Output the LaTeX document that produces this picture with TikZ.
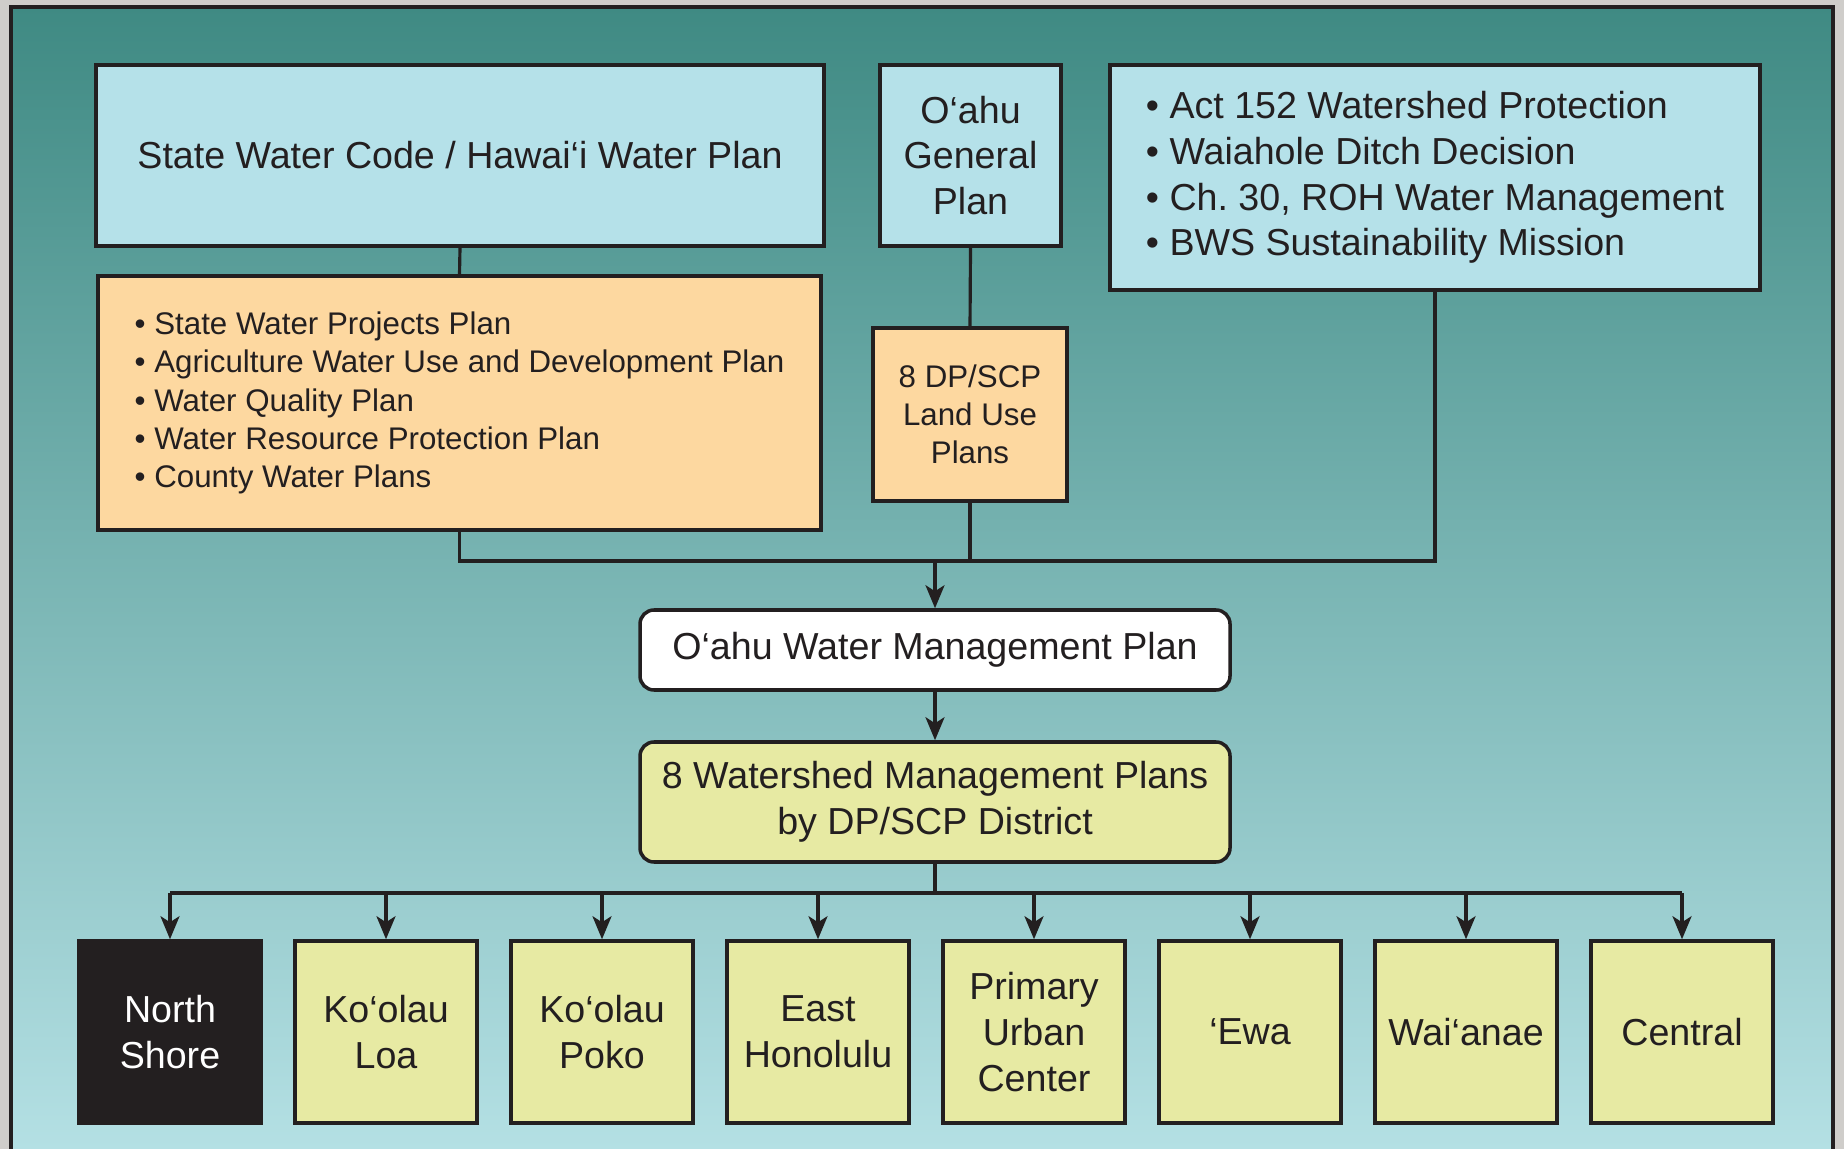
\documentclass[tikz,border=0pt]{standalone}
\usepackage{fontspec}
\setmainfont{Liberation Sans}
\usetikzlibrary{arrows.meta}
\frenchspacing

\definecolor{marble}{HTML}{CFCDCA}
\definecolor{tealtop}{HTML}{3F8A83}
\definecolor{tealbot}{HTML}{B4E0E4}
\definecolor{skyfill}{HTML}{B5E1E9}
\definecolor{peach}{HTML}{FDD8A0}
\definecolor{lime}{HTML}{E7EAA3}
\definecolor{ink}{HTML}{231F20}

\newcommand{\planfont}{\fontsize{10.7}{13}\selectfont}
\newcommand{\listfont}{\fontsize{8.9}{10.9}\selectfont}

\tikzset{
	plan/.style = {draw=ink, line width=1pt, text=ink, inner sep=0pt, align=center, font=\planfont},
	bluebox/.style = {plan, fill=skyfill},
	peachbox/.style = {plan, fill=peach, font=\listfont},
	whitebox/.style = {plan, fill=white, rounded corners=1.4mm},
	limebox/.style = {plan, fill=lime},
	nightbox/.style = {plan, fill=ink, text=white},
	link/.style = {draw=ink, line width=0.9pt},
	arr/.style = {link, -{Stealth[length=2.3mm, width=1.9mm, inset=0.6mm]}}
}

\begin{document}
\begin{tikzpicture}[x=0.1mm, y=-0.1mm]
		\useasboundingbox (0,0) rectangle (1844,1149);
		
		% Background
		\fill[marble] (0,0) rectangle (1844,1149);
		\shade[top color=tealtop, bottom color=tealbot] (11,7) rectangle (1833,1149);
		\draw[ink, line width=1pt] (11,1149) |- (1833,7) -- (1833,1149);
		
		% Top row
		\node[bluebox, minimum width=72.8mm, minimum height=18.1mm] (swc) at (460,155.5) {State Water Code / Hawai‘i Water Plan};
		\node[bluebox, minimum width=18.1mm, minimum height=18.1mm] (ogp) at (970.5,155.5) {O‘ahu\\General\\Plan};
		\node[bluebox, align=left, minimum width=65mm, minimum height=22.5mm] (act) at (1435,177.5)
			{• Act 152 Watershed Protection\\• Waiahole Ditch Decision\\• Ch. 30, ROH Water Management\\• BWS Sustainability Mission};
		
		% Second row
		\node[peachbox, align=left, minimum width=72.3mm, minimum height=25.4mm] (sub) at (459.5,403)
			{• State Water Projects Plan\\• Agriculture Water Use and Development Plan\\• Water Quality Plan\\• Water Resource Protection Plan\\• County Water Plans};
		\node[peachbox, minimum width=19.4mm, minimum height=17.3mm] (dpscp) at (970,414.5) {8 DP/SCP\\Land Use\\Plans};
		
		% Middle
		\node[whitebox, minimum width=59mm, minimum height=8mm] (owmp) at (935,650) {O‘ahu Water Management Plan};
		\node[limebox, rounded corners=1.4mm, minimum width=59mm, minimum height=12mm] (wmp) at (935,802) {8 Watershed Management Plans\\by DP/SCP District};
		
		% Districts
		\foreach \name/\sty [count=\i] in {{North\\Shore}/nightbox, {Ko‘olau\\Loa}/limebox, {Ko‘olau\\Poko}/limebox,
				{East\\Honolulu}/limebox, {Primary\\Urban\\Center}/limebox, ‘Ewa/limebox, Wai‘anae/limebox, Central/limebox}
		{
			\node[\sty, minimum size=18.2mm] (d\i) at ({170+216*(\i-1)},1032) {\name};
		}
		
		% Lines
		\coordinate (hub) at (935,561);
		\coordinate (bus) at (935,893);
		\draw[link] (swc.south) -- (sub.north);
		\draw[link] (ogp.south) -- (dpscp.north);
		\draw[link] (sub.south) -- (sub.south |- hub) -- (act.south |- hub) -- (act.south);
		\draw[link] (dpscp.south) -- (dpscp.south |- hub);
		\draw[arr] (hub) -- (owmp.north);
		\draw[arr] (owmp.south) -- (wmp.north);
		%
		\draw[link] (wmp.south) -- (bus);
		\draw[link] (d1.north |- bus) -- (d8.north |- bus);
		\foreach \i in {1,...,8}
		{
			\draw[arr] (d\i.north |- bus) -- (d\i.north);
		}
\end{tikzpicture}
\end{document}
